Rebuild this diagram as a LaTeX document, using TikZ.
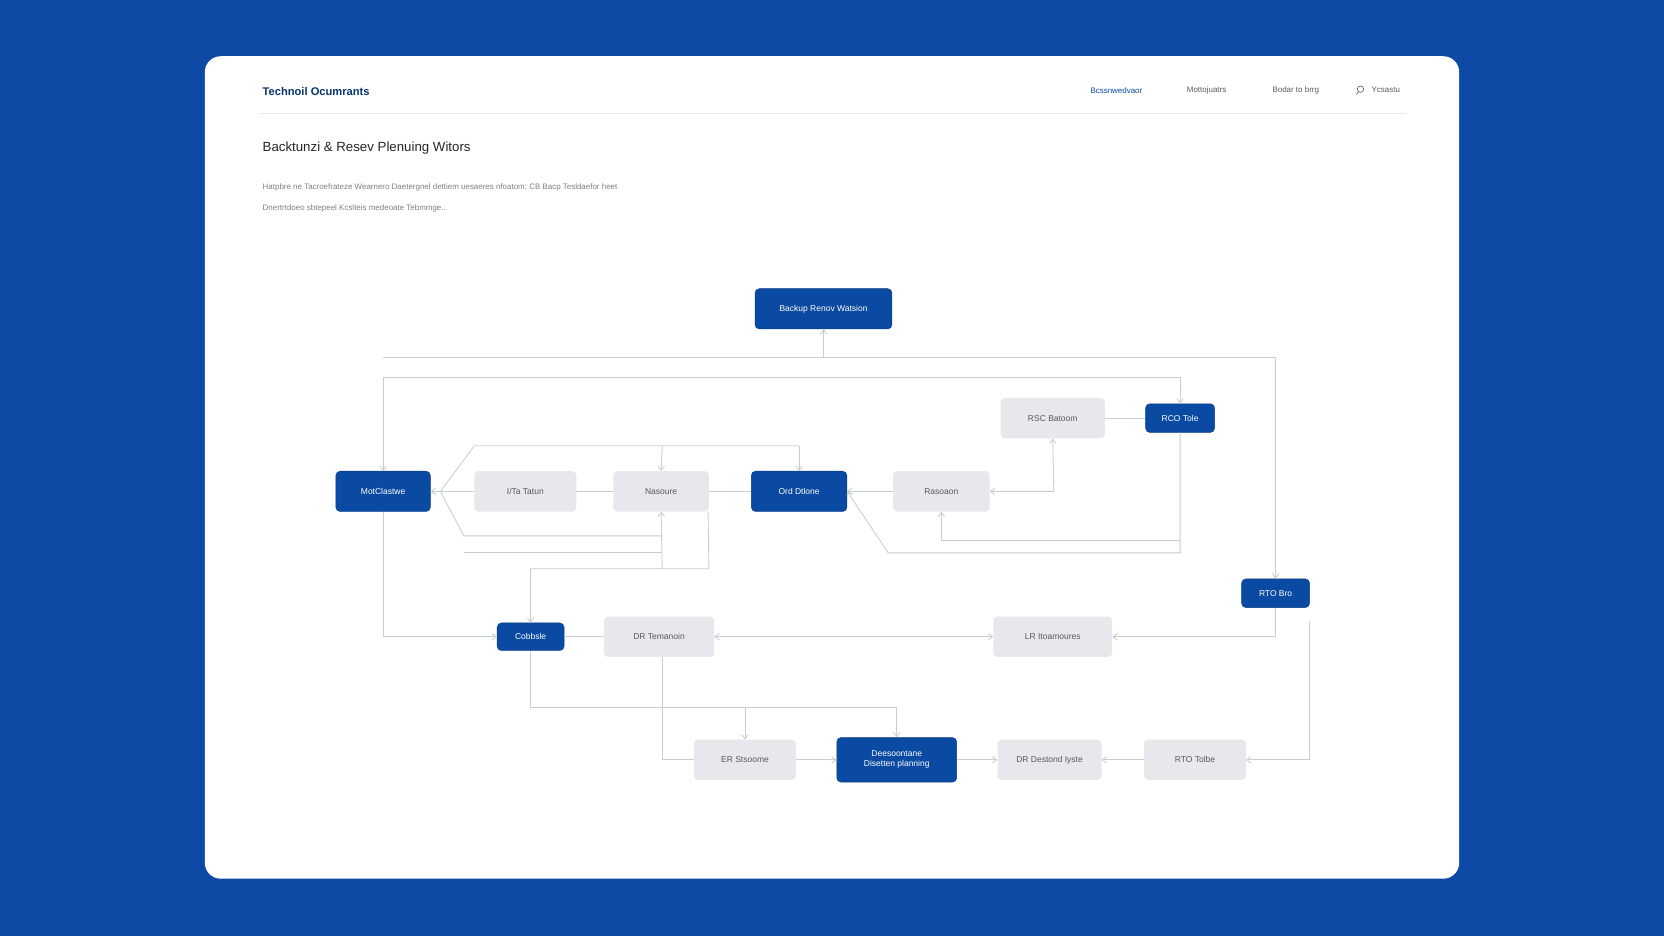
\documentclass[tikz,border=0pt]{standalone}
\usepackage{fontspec}
\setmainfont{Liberation Sans}
\usetikzlibrary{arrows.meta}
\definecolor{bgblue}{HTML}{0D4AA6}
\definecolor{nblue}{HTML}{0B4AA2}
\definecolor{ngray}{HTML}{E6E8EB}
\definecolor{lgray}{HTML}{C9CDD2}
\definecolor{tgray}{HTML}{555A60}
\tikzset{
  bnode/.style={draw=nblue!80!black,fill=nblue,rounded corners=4pt,text=white,font=\fontsize{8}{9.5}\selectfont,align=center,inner sep=0pt},
  gnode/.style={fill=ngray,rounded corners=4pt,text=tgray,font=\fontsize{8}{9.5}\selectfont,align=center,inner sep=0pt},
  conn/.style={draw=lgray,line width=0.8pt},
  arr/.style={conn,-{Straight Barb[length=4pt,width=6pt]}},
  darr/.style={conn,{Straight Barb[length=4pt,width=6pt]}-{Straight Barb[length=4pt,width=6pt]}}
}
\begin{document}
\begin{tikzpicture}[x=1pt,y=-1pt]
\fill[bgblue] (0,0) rectangle (1568,882);
\useasboundingbox (0,0) rectangle (1568,882);
\fill[white,rounded corners=15pt] (193,53) rectangle (1375,828);
% header
\node[anchor=west,text=nblue!70!black,font=\fontsize{10.5}{13}\selectfont\bfseries] (hd) at (244,86) {Technoil Ocumrants};
\node[text=nblue,font=\fontsize{7.5}{10}\selectfont] (n1) at (1052,85) {Bcssnwedvaor};
\node[text=tgray,font=\fontsize{7.5}{10}\selectfont] (n2) at (1137,85) {Mottojuatrs};
\node[text=tgray,font=\fontsize{7.5}{10}\selectfont] (n3) at (1221,85) {Bodar to brrg};
\node[text=tgray,font=\fontsize{7.5}{10}\selectfont,anchor=west] (n4) at (1289,85) {Ycsastu};
\draw[tgray,line width=0.6pt] (1282,84) circle (3pt) (1280,86.5) -- (1278,89);
\draw[draw=ngray,line width=0.8pt] (245,107) -- (1325,107);
\node[anchor=west,text=black!85,font=\fontsize{12.5}{15}\selectfont] (tt) at (244,140) {Backtunzi \& Resev Plenuing Witors};
\node[anchor=west,text=gray,font=\fontsize{7.5}{9}\selectfont] (p1) at (244,177) {Hatpbre ne Tacroefrateze Wearnero Daetergnel dettiem uesaeres nfoatom; CB Bacp Tesldaefor heet};
\node[anchor=west,text=gray,font=\fontsize{7.5}{9}\selectfont] (p2) at (244,196) {Dnertrtdoeo sbtepeel Kcslteis medeoate Tebmmge..};
% nodes
\node[bnode,minimum width=129pt,minimum height=38pt] (bk) at (776,291) {Backup Renov Watsion};
\node[bnode,minimum width=89pt,minimum height=38pt] (mc) at (361,463) {MotClastwe};
\node[gnode,minimum width=96pt,minimum height=38pt] (it) at (495,463) {I/Ta Tatun};
\node[gnode,minimum width=90pt,minimum height=38pt] (na) at (623,463) {Nasoure};
\node[bnode,minimum width=90pt,minimum height=38pt] (od) at (753,463) {Ord Dtlone};
\node[gnode,minimum width=91pt,minimum height=38pt] (ra) at (887,463) {Rasoaon};
\node[gnode,minimum width=98pt,minimum height=38pt] (rs) at (992,394) {RSC Batoom};
\node[bnode,minimum width=65pt,minimum height=27pt] (rc) at (1112,394) {RCO Tole};
\node[bnode,minimum width=64pt,minimum height=27pt] (rb) at (1202,559) {RTO Bro};
\node[bnode,minimum width=63pt,minimum height=26pt] (cb) at (500,600) {Cobbsle};
\node[gnode,minimum width=104pt,minimum height=38pt] (dt) at (621,600) {DR Temanoin};
\node[gnode,minimum width=112pt,minimum height=38pt] (lr) at (992,600) {LR Itoamoures};
\node[gnode,minimum width=96pt,minimum height=38pt] (er) at (702,716) {ER Stsoome};
\node[bnode,minimum width=113pt,minimum height=42pt] (de) at (845,716) {Deesoontane\\Disetten planning};
\node[gnode,minimum width=98pt,minimum height=38pt] (dd) at (989,716) {DR Destond Iyste};
\node[gnode,minimum width=96pt,minimum height=38pt] (rt) at (1126,716) {RTO Tolbe};
% coordinates
\coordinate (a1) at (361,337); \coordinate (a2) at (1202,337); \coordinate (a3) at (776,337);
\coordinate (b1) at (361,356); \coordinate (b2) at (1112,356);
\coordinate (c1) at (447,420); \coordinate (c2) at (437,505); \coordinate (c3) at (437,521);
\coordinate (m) at (415,463);
\coordinate (r1) at (1112,521); \coordinate (r2) at (837,521); \coordinate (r3) at (1112,509); \coordinate (r4) at (887,509);
\coordinate (s1) at (993,463);
\coordinate (k1) at (668,536); \coordinate (k2) at (500,536); \coordinate (k3) at (624,536);
\coordinate (e1) at (361,600);
\coordinate (f1) at (500,667); \coordinate (f2) at (845,667); \coordinate (f3) at (702,667);
\coordinate (g1) at (624,716);
\coordinate (h1) at (1234,585); \coordinate (h2) at (1234,716);
% connectors
\draw[conn] (a1) -- (a2);
\draw[arr] (a3) -- (bk.south);
\draw[arr] (a2) -- (rb.north);
\draw[arr] (b1) -- (b2) -- (rc.north);
\draw[arr] (b1) -- (mc.north);
\draw[conn] (rs.east) -- (rc.west);
\draw[arr] (rc.south) -- (r1) -- (r2) -- (od.east);
\draw[arr] (r3) -- (r4) -- (ra.south);
\draw[darr] (ra.east) -- (s1) -- (rs.south);
\draw[arr] (ra.west) -- (od.east);
\draw[conn] (od.west) -- (na.east);
\draw[conn] (na.west) -- (it.east);
\draw[arr] (it.west) -- (mc.east);
\draw[conn] (m) -- (c1) -- (753,420);
\draw[arr] (753,420) -- (od.north);
\draw[arr] (624,420) -- (na.north);
\draw[conn] (m) -- (c2) -- (624,505);
\draw[conn] (c3) -- (624,521);
\draw[arr] (k3) -- (na.south);
\draw[arr] (na.south east) ++(-1,0) -- (k1) -- (k2) -- (cb.north);
\draw[arr] (mc.south) -- (e1) -- (cb.west);
\draw[conn] (cb.east) -- (dt.west);
\draw[darr] (dt.east) -- (lr.west);
\draw[arr] (rb.south) |- (lr.east);
\draw[arr] (cb.south) -- (f1) -- (f2) -- (de.north);
\draw[arr] (f3) -- (er.north);
\draw[conn] (dt.south) ++(3,0) -- (g1) -- (er.west);
\draw[arr] (er.east) -- (de.west);
\draw[arr] (de.east) -- (dd.west);
\draw[arr] (rt.west) -- (dd.east);
\draw[arr] (h1) -- (h2) -- (rt.east);
\end{tikzpicture}
\end{document}
